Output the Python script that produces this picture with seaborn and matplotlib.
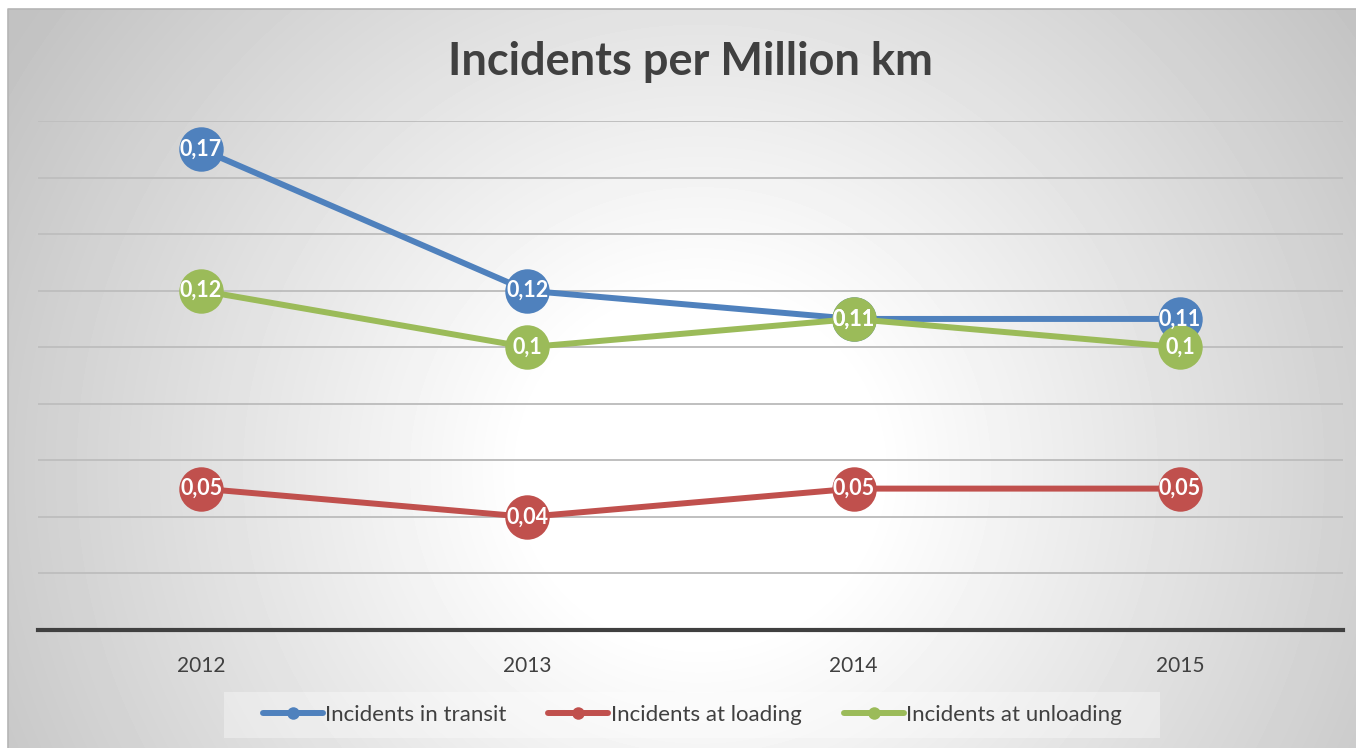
"""
Incidents per Million km - line chart with labelled circle markers
"""

import numpy as np
import pandas as pd
import matplotlib.pyplot as plt
from matplotlib.lines import Line2D
from matplotlib.patches import Rectangle
import seaborn as sns

years = ["2012", "2013", "2014", "2015"]
series_names = ["Incidents in transit", "Incidents at loading", "Incidents at unloading"]
in_transit = [0.17, 0.12, 0.11, 0.11]
at_loading = [0.05, 0.04, 0.05, 0.05]
at_unloading = [0.12, 0.10, 0.11, 0.10]
colors = ["#4F81BD", "#C0504D", "#9BBB59"]

df = pd.DataFrame({
    "Year": years * 3,
    "Value": in_transit + at_loading + at_unloading,
    "Series": [s for s in series_names for _ in years],
})

sns.set_theme(style="white")
plt.rcParams["font.family"] = ["Lato", "DejaVu Sans"]
text_color = "#404040"

W, H = 1356, 748
fig = plt.figure(figsize=(W / 100, H / 100), dpi=100)
fig.patch.set_facecolor("white")

# radial grey gradient background (Excel style)
bg = fig.add_axes([8 / W, 0, 1 - 8 / W, (H - 9) / H], zorder=-10)
yy, xx = np.mgrid[9:H, 8:W]
r = np.sqrt(((xx - 700) / 800.0) ** 2 + ((yy - 470) / 780.0) ** 2)
shade = 1 - 0.24 * np.clip((r - 0.22) / 0.8, 0, 1)
bg.imshow(shade, cmap="gray", vmin=0, vmax=1, aspect="auto", interpolation="bilinear")
bg.set_axis_off()
# thin frame on the left and top edges only
fig.add_artist(Line2D([8 / W, 8 / W, 1], [0, (H - 9) / H, (H - 9) / H],
                      transform=fig.transFigure, color="#b5b5b5", linewidth=1.2))

ax = fig.add_axes([38 / W, (H - 630) / H, (1343 - 38) / W, (630 - 121) / H])
ax.patch.set_alpha(0)

sns.lineplot(data=df, x="Year", y="Value", hue="Series", palette=colors,
             marker="o", markersize=32, markeredgewidth=0, linewidth=4.3,
             sort=False, legend=False, ax=ax)

for vals in [in_transit, at_loading, at_unloading]:
    for i, v in enumerate(vals):
        ax.text(i, v, f"{v:g}".replace(".", ","), color="white", fontsize=15.5,
                fontweight="bold", ha="center", va="center", zorder=10)

ax.set_xlim(-0.5, 3.5)
ax.set_ylim(0, 0.18)
ax.set_yticks(np.arange(0.02, 0.181, 0.02))
ax.set_yticklabels([])
ax.yaxis.grid(True, color="#bfbfbf", linewidth=1.4)
ax.set_axisbelow(True)
ax.tick_params(axis="both", length=0)
ax.tick_params(axis="x", pad=19, labelsize=15, labelcolor=text_color)
ax.set_xlabel("")
ax.set_ylabel("")
for side in ["top", "left", "right"]:
    ax.spines[side].set_visible(False)
ax.spines["bottom"].set_color("#404040")
ax.spines["bottom"].set_linewidth(3)

fig.text(690 / W, (H - 75) / H, "Incidents per Million km", fontsize=32.5,
         fontweight="bold", color=text_color, ha="center", va="baseline")

# legend box
fig.add_artist(Rectangle((224 / W, (H - 738) / H), (1160 - 224) / W, 46 / H,
                         transform=fig.transFigure, facecolor="white", alpha=0.35,
                         edgecolor="none", zorder=1))
handles = [Line2D([0], [0], color=c, linewidth=4.3, marker="o", markersize=9,
                  markeredgewidth=0) for c in colors]
fig.legend(handles, series_names, loc="center", bbox_to_anchor=(692 / W, (H - 715) / H),
           ncol=3, frameon=False, fontsize=16, labelcolor=text_color,
           handlelength=2.7, handletextpad=0.1, columnspacing=1.9)

fig.savefig("out.png", dpi=100)
